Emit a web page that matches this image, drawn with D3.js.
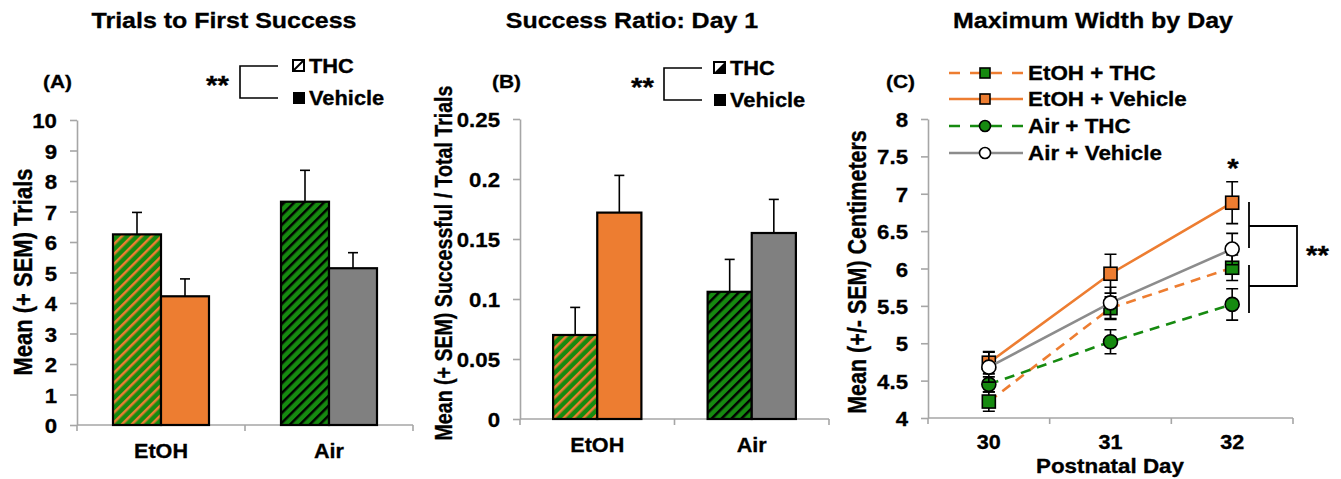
<!DOCTYPE html>
<html>
<head>
<meta charset="utf-8">
<script src="https://cdn.jsdelivr.net/npm/d3@7"></script>
<style>
  html, body { margin: 0; padding: 0; background: #fff; }
  svg { display: block; }
  text { font-family: "Liberation Sans", Arial, sans-serif; font-weight: bold; fill: #000; stroke: #000; stroke-width: 0.3px; }
</style>
</head>
<body>
<svg id="fig" width="1341" height="479"></svg>
<script>
// ---- data ----
const groups = ["EtOH", "Air"];
const treatments = ["THC", "Vehicle"];

// (A) trials to first success
const trialsTHC = [6.25, 7.32];
const trialsTHCsem = [0.72, 1.03];
const trialsVeh = [4.22, 5.14];
const trialsVehSem = [0.57, 0.51];
const trialsTicks = [0, 1, 2, 3, 4, 5, 6, 7, 8, 9, 10];

// (B) success ratio, day 1
const ratioTHC = [0.070, 0.106];
const ratioTHCsem = [0.023, 0.027];
const ratioVeh = [0.172, 0.155];
const ratioVehSem = [0.031, 0.028];
const ratioTicks = [0, 0.05, 0.1, 0.15, 0.2, 0.25];

// (C) maximum width by postnatal day
const days = [30, 31, 32];
const seriesNames = ["EtOH + THC", "EtOH + Vehicle", "Air + THC", "Air + Vehicle"];
const etohThc = [4.22, 5.47, 6.01];
const etohThcSem = [0.13, 0.15, 0.17];
const etohVeh = [4.74, 5.93, 6.88];
const etohVehSem = [0.15, 0.26, 0.28];
const airThc = [4.45, 5.02, 5.52];
const airThcSem = [0.10, 0.16, 0.21];
const airVeh = [4.68, 5.54, 6.26];
const airVehSem = [0.20, 0.21, 0.21];
const widthTicks = [4, 4.5, 5, 5.5, 6, 6.5, 7, 7.5, 8];

// ---- styles ----
const ORANGE = "#ED7D31", GREEN = "#168a10", GRAY = "#808080", LINEGRAY = "#8c8c8c", AXIS = "#a6a6a6";
const ROT_SX = 1.2;   // glyph stretch for rotated titles

const svg = d3.select("#fig");
const defs = svg.append("defs");

function stripes(id, bg, fg) {
  const p = defs.append("pattern").attr("id", id)
    .attr("patternUnits", "userSpaceOnUse").attr("width", 7).attr("height", 7)
    .attr("patternTransform", "rotate(45)");
  p.append("rect").attr("width", 7).attr("height", 7).attr("fill", bg);
  p.append("rect").attr("x", 0).attr("width", 2.5).attr("height", 7).attr("fill", fg);
}
stripes("hatchEtoh", GREEN, ORANGE);
stripes("hatchAir", GREEN, "#000");

// text with a horizontal stretch factor (or a stretched, rotated title)
function txt(g, x, y, s, size, anchor, sx, rot) {
  return g.append("text")
    .attr("transform", rot ? `translate(${x},${y}) rotate(-90) scale(1,${sx})` : `translate(${x},${y}) scale(${sx},1)`)
    .attr("font-size", size)
    .attr("text-anchor", anchor || "start")
    .text(s);
}

function yAxis(g, y, x0, ticks, fmt) {
  const sx = 1.06;
  const ax = g.append("g").attr("transform", `translate(${x0},0)`)
    .call(d3.axisLeft(y).tickValues(ticks).tickSize(7).tickSizeOuter(0).tickFormat(fmt));
  ax.select(".domain").attr("stroke", AXIS).attr("stroke-width", 1.6);
  ax.selectAll(".tick line").attr("stroke", AXIS).attr("stroke-width", 1.6);
  ax.selectAll(".tick text").attr("font-size", 21).attr("fill", "#000")
    .attr("font-family", null)
    .attr("x", -20 / sx)
    .attr("dy", "0.36em")
    .attr("transform", `scale(${sx},1)`);
}

function xAxisBand(g, x, yPix, labelY) {
  const [r0, r1] = x.range();
  g.append("line").attr("x1", r0).attr("x2", r1).attr("y1", yPix).attr("y2", yPix)
    .attr("stroke", AXIS).attr("stroke-width", 1.6);
  const edges = x.domain().map(d => x(d)).concat([r1]);
  g.selectAll(".edgeTick").data(edges).join("line")
    .attr("x1", d => d).attr("x2", d => d).attr("y1", yPix).attr("y2", yPix + 6)
    .attr("stroke", AXIS).attr("stroke-width", 1.6);
  x.domain().forEach(d => txt(g, x(d) + x.bandwidth() / 2, labelY, d, 20, "middle", 1.08));
}

function barPanel(cfg) {
  const g = svg.append("g");
  const x = d3.scaleBand().domain(groups).range(cfg.xRange);
  const xs = d3.scaleBand().domain(treatments).range([0, x.bandwidth()]).paddingOuter(0.75);
  const y = d3.scaleLinear().domain(cfg.yDomain).range(cfg.yRange);

  yAxis(g, y, cfg.xRange[0], cfg.ticks, cfg.fmt);
  xAxisBand(g, x, cfg.yRange[0], cfg.yRange[0] + 33);

  const rows = [];
  groups.forEach((grp, i) => {
    rows.push({ grp, tr: "THC", v: cfg.thc[i], e: cfg.thcSem[i] });
    rows.push({ grp, tr: "Vehicle", v: cfg.veh[i], e: cfg.vehSem[i] });
  });
  const fill = r => r.tr === "THC" ? (r.grp === "EtOH" ? "url(#hatchEtoh)" : "url(#hatchAir)")
                                   : (r.grp === "EtOH" ? ORANGE : GRAY);
  const cx = r => x(r.grp) + xs(r.tr) + xs.bandwidth() / 2;

  // error bars (upper only)
  g.selectAll(".err").data(rows).join("line")
    .attr("x1", cx).attr("x2", cx).attr("y1", r => y(r.v)).attr("y2", r => y(r.v + r.e))
    .attr("stroke", "#000").attr("stroke-width", 1.6);
  g.selectAll(".cap").data(rows).join("line")
    .attr("x1", r => cx(r) - 5).attr("x2", r => cx(r) + 5)
    .attr("y1", r => y(r.v + r.e)).attr("y2", r => y(r.v + r.e))
    .attr("stroke", "#000").attr("stroke-width", 1.6);

  g.selectAll(".bar").data(rows).join("rect")
    .attr("x", r => x(r.grp) + xs(r.tr)).attr("width", xs.bandwidth())
    .attr("y", r => y(r.v)).attr("height", r => y(cfg.yDomain[0]) - y(r.v))
    .attr("fill", fill).attr("stroke", "#000").attr("stroke-width", 2.2);

  // titles
  txt(g, cfg.titleX, 28, cfg.title, 22, "middle", 1.135);
  txt(g, cfg.panelX, 88, cfg.panel, 18.5, "start", 1.13);
  txt(g, cfg.yTitleX, cfg.yTitleY, cfg.yTitle, cfg.yTitleSize, "middle", ROT_SX, true);

  // legend: ** with bracket
  const L = cfg.legend;
  txt(g, L.x, L.y + 14, "**", 26, "start", 1.13);
  g.append("path")
    .attr("d", `M${L.bx + 38},${L.y - 14}H${L.bx}V${L.y + 18}H${L.bx + 38}`)
    .attr("fill", "none").attr("stroke", "#000").attr("stroke-width", 1.6);
  const sx = L.bx + L.sw;
  g.append("rect").attr("x", sx).attr("y", L.y - 20).attr("width", 11).attr("height", 11)
    .attr("fill", "#fff").attr("stroke", "#000").attr("stroke-width", 2);
  if (cfg.panel === "(A)") {
    g.append("line").attr("x1", sx).attr("y1", L.y - 9).attr("x2", sx + 11).attr("y2", L.y - 20)
      .attr("stroke", "#000").attr("stroke-width", 2);
  } else {
    g.append("path").attr("d", `M${sx + 11},${L.y - 20}L${sx + 11},${L.y - 9}L${sx},${L.y - 9}Z`).attr("fill", "#000");
  }
  g.append("rect").attr("x", sx).attr("y", L.y + 12).attr("width", 12).attr("height", 12).attr("fill", "#000");
  txt(g, sx + 16, L.y - 7, "THC", 19.5, "start", 1.12);
  txt(g, sx + 16, L.y + 25, "Vehicle", 19.5, "start", 1.12);
}

barPanel({
  xRange: [77, 413], yDomain: [0, 10], yRange: [425, 120], ticks: trialsTicks, fmt: d3.format("d"),
  thc: trialsTHC, thcSem: trialsTHCsem, veh: trialsVeh, vehSem: trialsVehSem,
  title: "Trials to First Success", titleX: 224, panel: "(A)", panelX: 43,
  yTitle: "Mean (+ SEM) Trials", yTitleX: 32, yTitleY: 272, yTitleSize: 22,
  legend: { x: 206, y: 80, bx: 240, sw: 53 }
});

barPanel({
  xRange: [520, 829], yDomain: [0, 0.25], yRange: [419, 119], ticks: ratioTicks, fmt: d => d === 0 ? "0" : d3.format("~g")(d),
  thc: ratioTHC, thcSem: ratioTHCsem, veh: ratioVeh, vehSem: ratioVehSem,
  title: "Success Ratio: Day 1", titleX: 632, panel: "(B)", panelX: 492,
  yTitle: "Mean (+ SEM) Successful / Total Trials", yTitleX: 452, yTitleY: 263, yTitleSize: 19.6,
  legend: { x: 631, y: 82, bx: 664, sw: 50 }
});

// ---- (C) line chart ----
(function () {
  const g = svg.append("g");
  const x = d3.scaleBand().domain(days).range([928, 1293]);
  const y = d3.scaleLinear().domain([4, 8]).range([418, 119]);
  const px = d => x(d) + x.bandwidth() / 2;

  yAxis(g, y, 928, widthTicks, d3.format("~g"));
  xAxisBand(g, x, 418, 449);
  txt(g, 1110, 473, "Postnatal Day", 20, "middle", 1.12);
  txt(g, 1093, 28, "Maximum Width by Day", 22, "middle", 1.135);
  txt(g, 886, 88, "(C)", 18.5, "start", 1.13);
  txt(g, 866, 272, "Mean (+/- SEM) Centimeters", 21.5, "middle", ROT_SX, true);

  const series = [
    { name: seriesNames[0], v: etohThc, e: etohThcSem, line: ORANGE, dash: "10,7", shape: "square", fill: GREEN },
    { name: seriesNames[1], v: etohVeh, e: etohVehSem, line: ORANGE, dash: null, shape: "square", fill: ORANGE },
    { name: seriesNames[2], v: airThc, e: airThcSem, line: GREEN, dash: "10,7", shape: "circle", fill: GREEN },
    { name: seriesNames[3], v: airVeh, e: airVehSem, line: LINEGRAY, dash: null, shape: "circle", fill: "#fff" }
  ];
  const line = d3.line().x(d => px(d.day)).y(d => y(d.v));

  function marker(sel, s, cxp, cyp, size) {
    if (s.shape === "square") {
      sel.append("rect").attr("x", cxp - size / 2).attr("y", cyp - size / 2).attr("width", size).attr("height", size)
        .attr("fill", s.fill).attr("stroke", "#000").attr("stroke-width", 1.6);
    } else {
      sel.append("circle").attr("cx", cxp).attr("cy", cyp).attr("r", size / 2 + 0.5)
        .attr("fill", s.fill).attr("stroke", "#000").attr("stroke-width", 1.6);
    }
  }

  series.forEach(s => {
    const pts = days.map((d, i) => ({ day: d, v: s.v[i], e: s.e[i] }));
    const sg = g.append("g");
    sg.selectAll(".eb").data(pts).join("path")
      .attr("d", p => `M${px(p.day)},${y(p.v - p.e)}V${y(p.v + p.e)}M${px(p.day) - 6},${y(p.v + p.e)}h12M${px(p.day) - 6},${y(p.v - p.e)}h12`)
      .attr("fill", "none").attr("stroke", "#000").attr("stroke-width", 1.6);
    sg.append("path").datum(pts).attr("d", line)
      .attr("fill", "none").attr("stroke", s.line).attr("stroke-width", 2.6)
      .attr("stroke-dasharray", s.dash);
    pts.forEach(p => marker(sg, s, px(p.day), y(p.v), 13));
  });

  // legend
  const ly = [73, 99, 126, 153];
  series.forEach((s, i) => {
    g.append("line").attr("x1", 949).attr("x2", 1023).attr("y1", ly[i]).attr("y2", ly[i])
      .attr("stroke", s.line).attr("stroke-width", 2.6).attr("stroke-dasharray", s.dash ? "11,10" : null);
    marker(g, s, 985, ly[i], 10);
    txt(g, 1028, ly[i] + 7, s.name, 19.5, "start", 1.15);
  });

  // significance marks
  txt(g, 1233, 177, "*", 26, "middle", 1.13);
  g.append("path").attr("d", "M1249,202V248M1249,265V313M1249,226H1297V286H1249")
    .attr("fill", "none").attr("stroke", "#000").attr("stroke-width", 1.8);
  txt(g, 1306, 264, "**", 26, "start", 1.13);
})();
</script>
</body>
</html>
